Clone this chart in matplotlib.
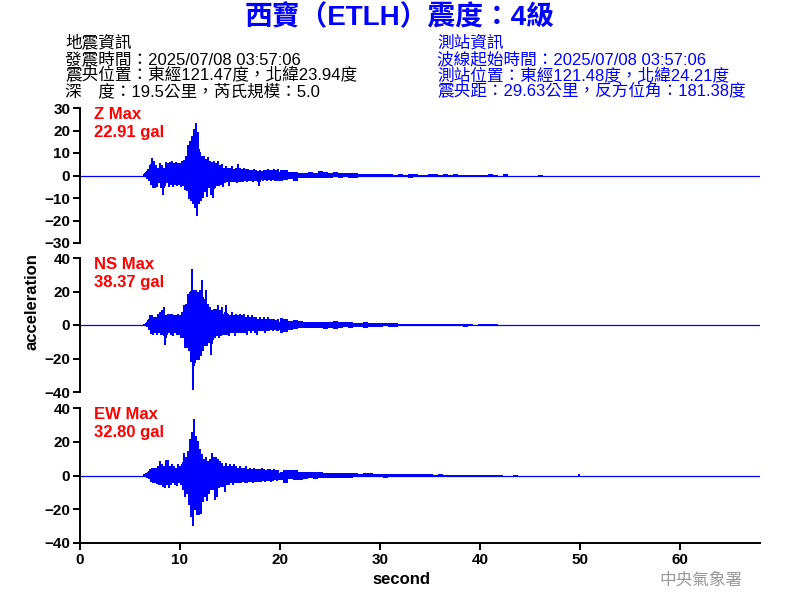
import numpy as np
import matplotlib
matplotlib.use("Agg")
import matplotlib.pyplot as plt

FAM = ['Liberation Sans', 'Noto Sans CJK TC', 'DejaVu Sans']
plt.rcParams['font.family'] = FAM

# ---------------- data ----------------
title = "西寶（ETLH）震度：4級"
quake_info = ["地震資訊",
              "發震時間：2025/07/08 03:57:06",
              "震央位置：東經121.47度，北緯23.94度",
              "深　度：19.5公里，芮氏規模：5.0"]
station_info = ["測站資訊",
                "波線起始時間：2025/07/08 03:57:06",
                "測站位置：東經121.48度，北緯24.21度",
                "震央距：29.63公里，反方位角：181.38度"]
components = ["Z", "NS", "EW"]
max_values = ["22.91", "38.37", "32.80"]
ylims = [30, 40, 40]
yticks = [[-30, -20, -10, 0, 10, 20, 30], [-40, -20, 0, 20, 40], [-40, -20, 0, 20, 40]]
xticks = [0, 10, 20, 30, 40, 50, 60]
record_start, record_end = 0.0, 68.0

# strong-motion part: peak (hi) and trough (lo) per 0.2 s from 6.4 s
active_start, active_step = 6.4, 0.2
z_hi = [0, 1, 2.5, 4, 7.4, 6, 4, 3, 5, 4, 3, 5.5, 5, 5.5, 6, 5, 5.5, 5, 5,
        6, 6.5, 8, 13, 14.8, 17, 20, 22.9, 18.8, 10, 8, 8, 7, 7.5, 6, 5.5, 6, 5, 6,
        4, 4.5, 3, 3.5, 3, 3, 3.5, 2.5, 3, 4.5, 3, 2.5, 3, 2.5, 2.5, 2, 2, 2.5, 2, 1.5,
        2, 1.5, 2, 2, 2.5, 2, 2, 2.5, 2, 2.5]
z_lo = [0, -1, -2, -3.5, -5.2, -5, -4.5, -3, -5, -8.1, -4, -3, -4.4, -3.5, -4.5, -3.5, -4, -3.5, -4.5,
        -4, -6, -6.5, -10, -11, -12, -14, -17.3, -12, -11, -9.6, -7, -8.9, -5, -8, -9.6, -5, -4, -4,
        -3.5, -4.4, -3, -2.5, -4, -2.5, -2.5, -2.5, -3, -2.5, -2.5, -2.5, -2, -2.5, -2, -2, -2.5, -2, -2, -4,
        -1.5, -2, -1.5, -2, -1.5, -2, -1.5, -2, -2, -2]
ns_hi = [0, 0.5, 2, 5, 5, 4, 4, 6, 7, 8, 9.8, 5, 6, 6, 6, 5, 5.4, 6, 5,
         7, 11, 12, 18, 19, 32.8, 20, 20, 19, 20, 26, 15, 20, 12, 10, 8, 9, 9, 11,
         8, 10, 6, 11, 6, 5, 7, 5, 6, 5, 6, 5, 6, 4, 5, 4, 5, 4, 4, 3,
         4, 3, 4, 3, 4, 3, 3, 3, 2.5, 3]
ns_lo = [0, -0.5, -2, -4.6, -5, -4, -5, -4, -5, -5, -11.2, -5, -4, -5, -6, -4, -5, -5, -7,
         -7, -13, -13, -15, -21.6, -38.4, -22, -20, -20, -18, -15, -12, -12, -10, -17, -8, -7, -6, -7,
         -6, -5, -5, -5, -6, -4, -4, -6, -4, -4, -4, -4, -4, -5.4, -3, -4, -3, -4, -5, -3,
         -3, -3, -4, -3, -3, -2.5, -3, -2.5, -3, -2.5]
ew_hi = [0, 0.5, 1.5, 3.4, 4, 4, 3.5, 5, 7.8, 6, 5, 8.2, 8.2, 5, 6, 5, 4, 6, 5,
         6, 12.7, 10, 14, 21, 25, 32.8, 22.7, 20, 15, 12, 9, 10, 8, 9, 12.8, 10, 10, 9,
         8, 7, 5, 6.9, 5, 6, 5, 6, 5, 4, 5, 4, 4, 5, 3, 4, 3, 4, 3, 3,
         3, 4, 3, 2.5, 3, 3, 2.5, 3, 2.5, 2.5]
ew_lo = [0, -0.5, -1.5, -3, -3.9, -4, -4.5, -5, -5, -6, -6.9, -5, -6.5, -5, -4, -5, -5.3, -4, -5,
         -8, -11.8, -10, -16.7, -24, -29.5, -20, -22.7, -23, -22, -15, -12, -14.4, -10, -8, -8, -13.8, -12, -7,
         -6, -6, -8.9, -5, -5, -4, -5, -4, -4, -4, -4, -3, -4, -4, -3, -3, -4, -3, -3, -3,
         -3, -2.5, -3, -2.5, -2.5, -3, -2.5, -2, -2.5, -2]

# coda: peak / trough per 0.5 s from 20 s to 50 s
coda_start, coda_step = 20.0, 0.5
z_coda_hi = [2.5, 2.5, 1.5, 1.5, 1, 1.2, 1.5, 1.2, 1.8, 1.5, 1.2, 1.5, 1, 1.2, 1, 1.2,
             0.7, 0.8, 0.7, 0.8, 0.8, 0.7, 0.5, 0.4, 0.5, 0.4, 0.8, 0.8, 0.3, 0.3, 0.5, 0.5,
             0.4, 0.5, 0.4, 0.5, 0.2, 0.4, 0.2, 0.4, 0.2, 0.3, 0.6, 0.1, 0, 0.5, 0, 0,
             0, 0, 0, 0, 0.4, 0, 0, 0, 0, 0, 0, 0, 0]
z_coda_lo = [-2.5, -2, -1.5, -2.5, -1, -1, -1, -1, -1.2, -1, -1, -0.8, -1, -0.8, -1, -1,
             -0.7, -0.6, -0.7, -0.5, -0.8, -0.5, -0.4, -0.4, -0.3, -0.4, -1, -0.7, -0.3, -0.2, -0.3, -0.4,
             -0.3, -0.2, -0.3, -0.3, -0.2, -0.2, -0.2, -0.4, -0.2, -0.2, -0.3, -0.1, 0, -0.2, 0, 0,
             0, 0, 0, 0, -0.2, 0, 0, 0, 0, 0, 0, 0, 0]
ns_coda_hi = [4, 3.4, 2.5, 3, 2.4, 2, 2, 2, 2, 1.8, 1.5, 2.6, 1.5, 1.5, 1.5, 1.2,
              1.2, 1.5, 1.2, 1, 1, 1, 1.2, 1, 0.8, 0.8, 0.8, 0.8, 0.6, 0.8, 0.8, 0.6,
              0.6, 0.5, 0.6, 0.4, 0.3, 0.8, 0.3, 0.2, 0.4, 0.3, 0.4, 0.6, 0.2, 0, 0, 0,
              0, 0, 0, 0, 0, 0, 0, 0, 0, 0, 0, 0, 0]
ns_coda_lo = [-4.6, -4, -3, -2.5, -2, -2, -2, -1.8, -2, -2.6, -1.5, -2.5, -1.5, -1.2, -1.5, -1.2,
              -1, -1.5, -1, -1.2, -1, -0.8, -1, -1, -0.6, -0.8, -0.6, -0.8, -0.6, -0.6, -0.6, -0.6,
              -0.5, -0.5, -0.4, -0.4, -0.3, -1, -0.2, -0.2, -0.3, -0.4, -0.3, -0.4, -0.2, 0, 0, 0,
              0, -0.4, 0, -0.4, 0, 0, -0.4, 0, 0, -0.4, 0, 0, 0]
ew_coda_hi = [2, 3.4, 3, 3.4, 2, 2, 1.8, 1.8, 1.8, 1.5, 1.4, 1.5, 1.2, 1.6, 1.2, 1.2,
              1, 1.4, 1.4, 1, 1, 1, 1, 1, 0.8, 0.8, 0.8, 0.6, 1, 0.6, 0.6, 0.5,
              0.6, 0.5, 0.5, 0.4, 0.5, 0.4, 0.4, 0.3, 0.4, 0.2, 0.4, 0.3, 0.2, 0, 0, 0.4,
              0, 0, 0, 0, 0, 0, 0, 0, 0, 0, 0, 0, 0.6, 0]
ew_coda_lo = [-2.6, -4.5, -2, -2.6, -2.6, -2, -1.4, -2, -1.4, -1.4, -1.5, -1.2, -1.2, -1.6, -1.2, -1,
              -1, -1, -1, -0.8, -1, -1.4, -0.8, -1, -0.8, -0.6, -0.8, -0.8, -0.6, -0.6, -0.5, -0.5,
              -0.4, -0.5, -0.4, -0.4, -0.3, -0.4, -0.4, -0.5, -0.3, -0.2, -0.2, -0.3, -0.2, 0, 0, -0.6,
              0, 0, 0, 0, 0, 0, 0, 0, 0, 0, 0, 0, 0]

series = [(z_hi, z_lo, z_coda_hi, z_coda_lo),
          (ns_hi, ns_lo, ns_coda_hi, ns_coda_lo),
          (ew_hi, ew_lo, ew_coda_hi, ew_coda_lo)]


def zigzag(t0, dt, hi, lo):
    """Alternate each bin's peak and trough so the trace swings like a waveform."""
    n = min(len(hi), len(lo))
    t = t0 + dt * np.arange(n)
    x = np.empty(2 * n)
    y = np.empty(2 * n)
    x[0::2] = t
    x[1::2] = t + dt / 2
    y[0::2] = np.asarray(hi[:n], float)
    y[1::2] = np.asarray(lo[:n], float)
    return x, y


# ---------------- figure ----------------
BLUE = '#0000FF'
RED = '#FF0000'
fig = plt.figure(figsize=(8, 6), dpi=100)

positions = [[0.1, 1 - 243 / 600, 0.85, 135 / 600],
             [0.1, 1 - 392 / 600, 0.85, 134 / 600],
             [0.1, 1 - 543 / 600, 0.85, 135 / 600]]

for i, (pos, comp, mx, yl, yt, data) in enumerate(zip(positions, components, max_values, ylims, yticks, series)):
    ax = fig.add_axes(pos)
    hi, lo, chi, clo = data
    # baseline of the trace over the whole record
    ax.plot([record_start, record_end], [0, 0], color=BLUE, lw=0.9, zorder=2)
    # strong-motion part
    xa, ya = zigzag(active_start, active_step, hi, lo)
    ax.plot(xa, ya, color=BLUE, lw=1.1, antialiased=False, zorder=3)
    # coda as a band between peak and trough
    m = min(len(chi), len(clo))
    tc = coda_start + coda_step * np.arange(m)
    ax.fill_between(tc, np.asarray(clo[:m], float), np.asarray(chi[:m], float),
                    step='mid', color=BLUE, lw=0, antialiased=False, zorder=3)
    ax.set_xlim(0, 68)
    ax.set_ylim(-yl, yl)
    ax.set_yticks(yt)
    for s in ['top', 'right']:
        ax.spines[s].set_visible(False)
    ax.spines['left'].set_linewidth(1.4)
    if i < 2:
        ax.spines['bottom'].set_visible(False)
        ax.set_xticks([])
    else:
        ax.spines['bottom'].set_linewidth(1.4)
        ax.set_xticks(xticks)
    ax.tick_params(axis='both', direction='out', length=5, width=1.4, labelsize=11, pad=2)
    for lab in ax.get_yticklabels() + ax.get_xticklabels():
        lab.set_fontweight('bold')
    ax.text(0.0206, 0.955, f"{comp} Max", transform=ax.transAxes, color=RED,
            fontsize=12, fontweight='bold', ha='left', va='center')
    ax.text(0.0206, 0.815, f"{mx} gal", transform=ax.transAxes, color=RED,
            fontsize=12, fontweight='bold', ha='left', va='center')

# titles and info text
fig.text(400 / 800, 1 - 18 / 600, title, color=BLUE, fontsize=20, fontweight='bold',
         ha='center', va='center')
ys = [43, 59, 75, 91]
for y, s in zip(ys, quake_info):
    fig.text(65 / 800, 1 - y / 600, s, color='black', fontsize=12, ha='left', va='center')
for y, s in zip(ys, station_info):
    fig.text(437 / 800, 1 - y / 600, s, color=BLUE, fontsize=12, ha='left', va='center')

fig.text(32 / 800, 1 - 302 / 600, "acceleration", rotation=90, fontsize=12, fontweight='bold',
         ha='center', va='center')
fig.text(401 / 800, 1 - 580 / 600, "second", fontsize=12, fontweight='bold',
         ha='center', va='center')
fig.text(701 / 800, 1 - 580 / 600, "中央氣象署", fontsize=12, color='#999999',
         ha='center', va='center')

fig.savefig("out.png", dpi=100)
